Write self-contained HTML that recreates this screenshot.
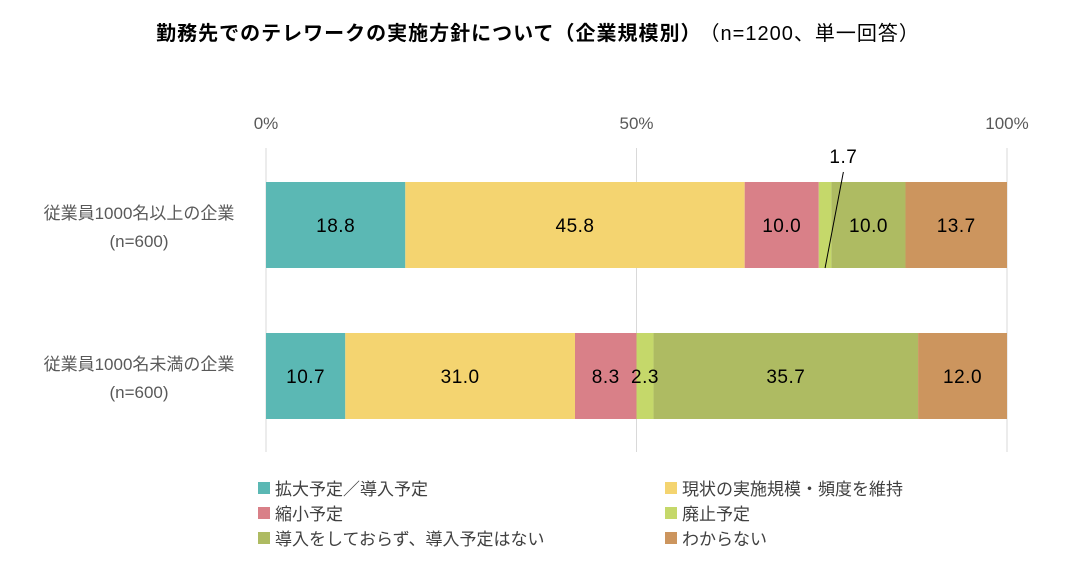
<!DOCTYPE html>
<html><head><meta charset="utf-8"><style>
body{margin:0;background:#fff;width:1083px;height:570px;overflow:hidden;font-family:"Liberation Sans","Noto Sans CJK JP",sans-serif;}
svg text{font-family:"Liberation Sans","Noto Sans CJK JP",sans-serif;}
</style></head><body>
<svg width="1083" height="570" id="chart">
<text x="538" y="40" text-anchor="middle" font-size="20" letter-spacing="1" fill="#000"><tspan font-weight="bold">勤務先でのテレワークの実施方針について（企業規模別）</tspan><tspan dx="8">（n=1200、単一回答）</tspan></text>
<g id="grid"></g><g id="bars"></g><g id="labels"></g><g id="legend"></g>
</svg>
<script>
const categories=["従業員1000名以上の企業","従業員1000名未満の企業"];
const catN=["(n=600)","(n=600)"];
const seriesNames=["拡大予定／導入予定","現状の実施規模・頻度を維持","縮小予定","廃止予定","導入をしておらず、導入予定はない","わからない"];
const row1=[18.8,45.8,10.0,1.7,10.0,13.7];
const row2=[10.7,31.0,8.3,2.3,35.7,12.0];
const ticks=[0,50,100];
const colors=["#5BB8B4","#F4D470","#D98088","#C5D86A","#AEBB62","#CC955E"];
const rows=[row1,row2];
const ns="http://www.w3.org/2000/svg";
const X=v=>266+v*(1007-266)/100;
const rowY=[182,333], bh=86;
function mk(t,a,p){const e=document.createElementNS(ns,t);for(const k in a)e.setAttribute(k,a[k]);p.appendChild(e);return e;}
const grid=document.getElementById('grid'),bars=document.getElementById('bars'),labs=document.getElementById('labels'),leg=document.getElementById('legend');
ticks.forEach(t=>{
 const l=mk('line',{x1:X(t),x2:X(t),y1:148,y2:452,stroke:'#d9d9d9','stroke-width':1},grid);
 
 
 const tx=mk('text',{x:X(t),y:129,'text-anchor':'middle','font-size':17,fill:'#595959'},grid);
 tx.textContent=t+'%';
 
 
});
rows.forEach((r,i)=>{
 const y=rowY[i];
 const c=mk('text',{x:139,y:y+bh/2-6,'text-anchor':'middle','font-size':17,fill:'#595959'},grid);
 c.textContent=categories[i];
 
 
 const c2=mk('text',{x:139,y:y+bh/2+22,'text-anchor':'middle','font-size':17,fill:'#595959'},grid);
 c2.textContent=catN[i];
 
 
 let acc=0;
 r.forEach((v,j)=>{
  const x0=X(acc),x1=X(acc+v);acc+=v;
  const b=mk('rect',{x:x0,y:y,width:x1-x0,height:bh,fill:colors[j]},bars);
  
  
  let lx=(x0+x1)/2,ly=y+bh/2+7;
  if(v<2){lx=x1+12;ly=163;
   const ln=mk('line',{x1:(x0+x1)/2,y1:y+bh,x2:x1+12,y2:y-10,stroke:'#000','stroke-width':1},labs);
   
   }
  const t=mk('text',{x:lx,y:ly,'text-anchor':'middle','font-size':19,fill:'#000','letter-spacing':'0.5'},labs);
  t.textContent=v.toFixed(1);
  
  
 });
});
seriesNames.forEach((s,k)=>{
 const col=k%2,row=Math.floor(k/2);
 const x=col?665:258,y=482+row*25;
 const r=mk('rect',{x:x,y:y,width:12,height:12,fill:colors[k]},leg);
 
 
 const t=mk('text',{x:x+17,y:y+13,'font-size':17,fill:'#404040'},leg);
 t.textContent=s;
 
 
});
</script>
</body></html>
